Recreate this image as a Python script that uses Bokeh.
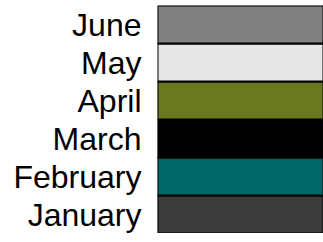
from bokeh.plotting import figure
from bokeh.models import ColumnDataSource, FactorRange, Range1d
from bokeh.embed import file_html
from bokeh.resources import INLINE

months = ["January", "February", "March", "April", "May", "June"]
values = [100, 100, 100, 100, 100, 100]
colors = ["#3c3b3b", "#006666", "#000000", "#6b7820", "#e6e6e6", "#808080"]

source = ColumnDataSource(dict(month=months, value=values, color=colors))

p = figure(
    width=323, height=233,
    y_range=FactorRange(*months),
    x_range=Range1d(0, 90),
    x_axis_location=None,
    output_backend="svg",
    toolbar_location=None,
    min_border_left=157, min_border_right=0,
    min_border_top=5, min_border_bottom=0,
)
p.hbar(y="month", right="value", left=0, height=1.0, fill_color="color",
       line_color="black", line_width=2, source=source)

p.outline_line_color = None
p.xgrid.visible = False
p.ygrid.visible = False
p.yaxis.axis_line_color = None
p.yaxis.major_tick_line_color = None
p.yaxis.minor_tick_line_color = None
p.yaxis.major_label_standoff = 10
p.yaxis.major_label_text_font = "Liberation Sans"
p.yaxis.major_label_text_font_size = "32px"
p.yaxis.major_label_text_color = "black"
p.background_fill_color = "white"
p.border_fill_color = "white"

open("out.html", "w").write(file_html(p, INLINE))
